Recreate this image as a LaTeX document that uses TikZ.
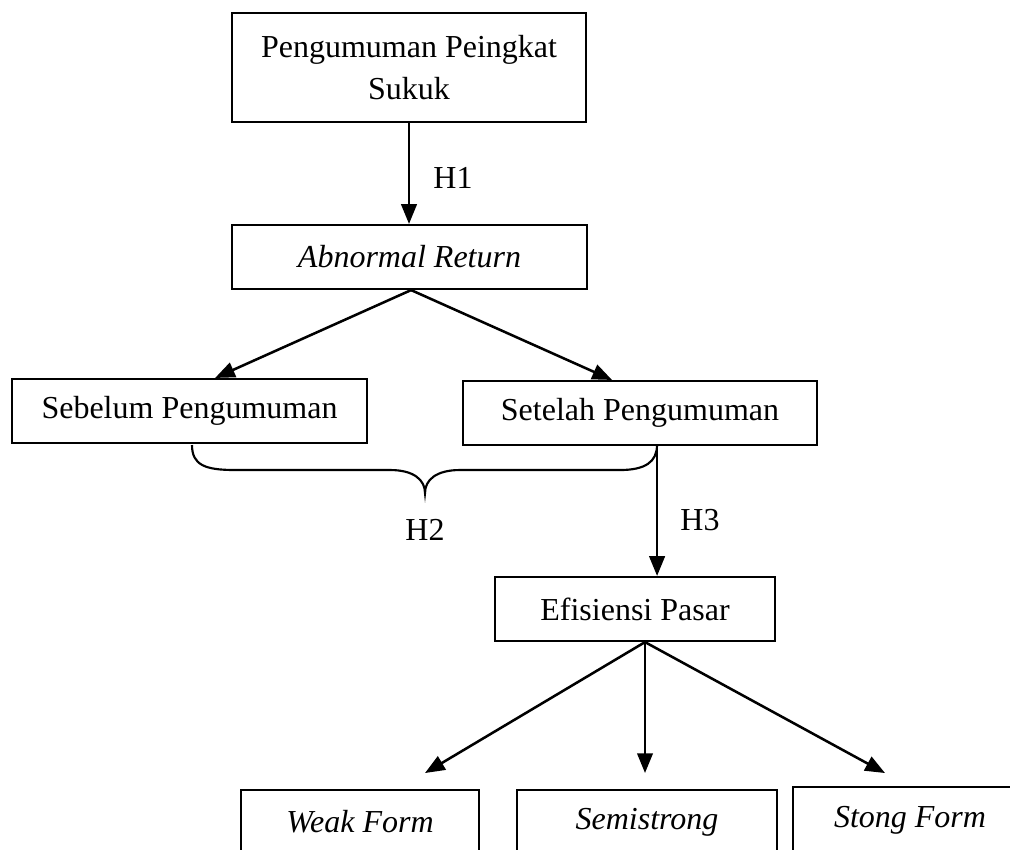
\documentclass[tikz,border=0pt]{standalone}
\usepackage{fontspec}
\setmainfont{Liberation Serif}
\usetikzlibrary{arrows.meta}
\tikzset{
  box/.style={draw, line width=0.8pt, inner sep=0pt, align=center, font=\fontsize{12pt}{15.75pt}\selectfont},
  arr/.style={line width=0.95pt, -{Triangle[length=7.4pt,width=5.8pt]}},
  lbl/.style={font=\fontsize{12pt}{14pt}\selectfont, inner sep=0pt},
  bracepath/.style={line width=0.8pt}
}
\begin{document}
\begin{tikzpicture}[x=0.375pt,y=-0.375pt]
\useasboundingbox (0,0) rectangle (1010,849);
\clip (0,0) rectangle (1010,849);
\node[box, minimum width=132.75pt, minimum height=40.9pt] (top) at (409,67.5) {Pengumuman Peingkat\\Sukuk};
\node[box, minimum width=133.1pt, minimum height=24pt] (abn) at (409.5,257) {\itshape Abnormal Return};
\node[box, minimum width=133.1pt, minimum height=24pt] (seb) at (189.5,411) {Sebelum Pengumuman};
\node[box, minimum width=132.75pt, minimum height=24pt] (set) at (640,413) {Setelah Pengumuman};
\node[box, minimum width=105pt, minimum height=24pt] (efi) at (635,609) {Efisiensi Pasar};
\node[box, minimum width=89.25pt, minimum height=24pt] (weak) at (360,822) {\itshape Weak Form};
\node[box, minimum width=97.5pt, minimum height=24pt] (semi) at (647,822) {\itshape Semistrong};
\node[box, minimum width=87.75pt, minimum height=25pt] (stong) at (910,820) {\itshape Stong Form};

\coordinate (tw) at (425,773);
\coordinate (ts) at (645,773);
\coordinate (tg) at (885,773);
\coordinate (bl) at (192,445);
\coordinate (br) at (657,445);

\draw[arr] (top.south) -- (top.south |- abn.north);
\node[lbl] (h1) at (453,178) {H1};
\draw[arr] ([xshift=0.6pt]abn.south) -- ([xshift=9.6pt]seb.north);
\draw[arr] ([xshift=0.6pt]abn.south) -- ([xshift=-10.5pt]set.north);
\draw[bracepath] (bl) .. controls (192,465) and (205,470) .. (235,470) -- (390,470)
  .. controls (414,470) and (425,480) .. (425,493)
  .. controls (425,480) and (436,470) .. (460,470) -- (620,470)
  .. controls (645,470) and (657,462) .. (br);
\node[lbl] (h2) at (425,530) {H2};
\draw[arr] ([xshift=6.4pt]set.south) -- ([xshift=6.4pt]set.south |- efi.north);
\node[lbl] (h3) at (700,520) {H3};
\draw[arr] ([xshift=3.75pt]efi.south) -- (tw);
\draw[arr] ([xshift=3.75pt]efi.south) -- (ts);
\draw[arr] ([xshift=3.75pt]efi.south) -- (tg);
\end{tikzpicture}
\end{document}
